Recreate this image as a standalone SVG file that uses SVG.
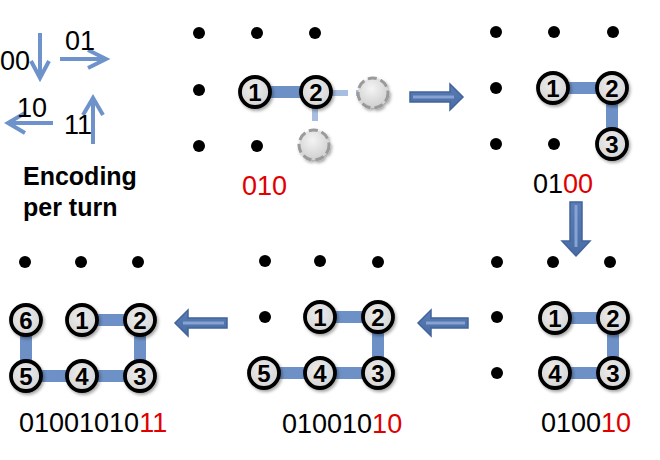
<svg xmlns="http://www.w3.org/2000/svg" width="660" height="460" viewBox="0 0 660 460">
<defs>
<style>
.dot{fill:#000}
.band{stroke:#6D90C6;stroke-width:12;fill:none}
.ghostline{stroke:#A8BEE0;stroke-width:6;fill:none;stroke-dasharray:17 8}
.node circle{fill:url(#ng);stroke:#000;stroke-width:3.8;filter:url(#sh)}
.node text{font-family:"Liberation Sans",Arial,sans-serif;font-size:24px;font-weight:bold;text-anchor:middle;fill:#000}
.ghost circle{fill:url(#gg);stroke:#9A9A9A;stroke-width:3;stroke-dasharray:9 4;filter:url(#sh)}
.code{font-family:"Liberation Sans",Arial,sans-serif;font-size:27px;fill:#000}
.red{fill:#E00000}
.leg{stroke:#6E93CB;stroke-width:4;fill:none}
.legt{font-family:"Liberation Sans",Arial,sans-serif;font-size:27px;fill:#000}
.title{font-family:"Liberation Sans",Arial,sans-serif;font-size:25px;font-weight:bold;fill:#000}
.barrow{fill:url(#ag);stroke:#41649C;stroke-width:1.5}
.stripe{stroke:#86A3D2;stroke-width:3;fill:none}
</style>
<radialGradient id="ng" cx="0.45" cy="0.4" r="0.6"><stop offset="0" stop-color="#EDEDED"/><stop offset="1" stop-color="#D4D4D4"/></radialGradient>
<radialGradient id="gg" cx="0.45" cy="0.35" r="0.65"><stop offset="0" stop-color="#F4F4F4"/><stop offset="1" stop-color="#CFCFCF"/></radialGradient>
<linearGradient id="ag" x1="0" y1="0" x2="0" y2="1"><stop offset="0" stop-color="#5A7DB6"/><stop offset="1" stop-color="#4A6CA5"/></linearGradient>
<filter id="sh" x="-30%" y="-30%" width="170%" height="170%"><feDropShadow dx="1.5" dy="2" stdDeviation="1.5" flood-color="#000" flood-opacity="0.35"/></filter>
</defs>

<!-- Legend -->
<g id="legend">
<path class="leg" d="M40 33V78M31 61L40 78L49 61"/>
<path class="leg" d="M60 59H106M88 50L106 59L88 68"/>
<path class="leg" d="M53 123H8M25 113L8 123L25 133"/>
<path class="leg" d="M93 144V98M83 115L93 98L103 115"/>
<text class="legt" x="0" y="70">00</text>
<text class="legt" x="65" y="50">01</text>
<text class="legt" x="17" y="117">10</text>
<text class="legt" x="64" y="134">11</text>
<text class="title" x="23" y="185">Encoding</text>
<text class="title" x="23" y="216">per turn</text>
</g>

<!-- Connectors -->
<g id="connectors">
<path class="band" d="M255 92H316"/>
<path class="ghostline" d="M331 93H360"/>
<path class="ghostline" d="M315 104V131"/>
<path class="band" d="M553 88H612V144"/>
<path class="band" d="M555 318H613V373H555"/>
<path class="band" d="M320 317H378V373H264"/>
<path class="band" d="M82 320H140V376H26V320"/>
<polygon class="barrow" points="410,92 450,92 450,84 463,97 450,110 450,102 410,102"/>
<path class="stripe" d="M413 97H454"/>
<polygon class="barrow" points="570,202 582,202 582,241 590,241 576,256 562,241 570,241"/>
<path class="stripe" d="M576 205V247"/>
<polygon class="barrow" points="468,318 431,318 431,310 418,323 431,336 431,328 468,328"/>
<path class="stripe" d="M465 323H426"/>
<polygon class="barrow" points="227,318 188,318 188,310 175,323 188,336 188,328 227,328"/>
<path class="stripe" d="M224 323H183"/>
</g>

<!-- Panel A -->
<g id="panelA">
<circle class="dot" cx="199" cy="33" r="6"/><circle class="dot" cx="257" cy="33" r="6"/><circle class="dot" cx="315" cy="33" r="6"/>
<circle class="dot" cx="199" cy="90" r="6"/>
<circle class="dot" cx="199" cy="146" r="6"/><circle class="dot" cx="257" cy="146" r="6"/>
<text class="code red" x="242" y="195">010</text>
</g>
<g id="A1" class="node"><circle cx="255" cy="92" r="15"/><text x="255" y="101">1</text></g>
<g id="A2" class="node"><circle cx="316" cy="92" r="15"/><text x="316" y="101">2</text></g>
<g id="Aghost1" class="ghost"><circle cx="373" cy="93" r="15"/></g>
<g id="Aghost2" class="ghost"><circle cx="314" cy="145" r="15"/></g>

<!-- Panel B -->
<g id="panelB">
<circle class="dot" cx="496" cy="32" r="6"/><circle class="dot" cx="554" cy="32" r="6"/><circle class="dot" cx="613" cy="32" r="6"/>
<circle class="dot" cx="496" cy="88" r="6"/>
<circle class="dot" cx="496" cy="144" r="6"/><circle class="dot" cx="554" cy="144" r="6"/>
<text class="code" x="533" y="193">01<tspan class="red">00</tspan></text>
</g>
<g id="B1" class="node"><circle cx="553" cy="88" r="15"/><text x="553" y="97">1</text></g>
<g id="B2" class="node"><circle cx="612" cy="88" r="15"/><text x="612" y="97">2</text></g>
<g id="B3" class="node"><circle cx="612" cy="144" r="15"/><text x="612" y="153">3</text></g>

<!-- Panel C -->
<g id="panelC">
<circle class="dot" cx="497" cy="262" r="6"/><circle class="dot" cx="553" cy="262" r="6"/><circle class="dot" cx="610" cy="262" r="6"/>
<circle class="dot" cx="497" cy="317" r="6"/>
<circle class="dot" cx="497" cy="373" r="6"/>
<text class="code" x="541" y="432">0100<tspan class="red">10</tspan></text>
</g>
<g id="C1" class="node"><circle cx="555" cy="318" r="15"/><text x="555" y="327">1</text></g>
<g id="C2" class="node"><circle cx="613" cy="318" r="15"/><text x="613" y="327">2</text></g>
<g id="C3" class="node"><circle cx="613" cy="373" r="15"/><text x="613" y="382">3</text></g>
<g id="C4" class="node"><circle cx="555" cy="373" r="15"/><text x="555" y="382">4</text></g>

<!-- Panel D -->
<g id="panelD">
<circle class="dot" cx="265" cy="261" r="6"/><circle class="dot" cx="320" cy="261" r="6"/><circle class="dot" cx="378" cy="262" r="6"/>
<circle class="dot" cx="265" cy="317" r="6"/>
<text class="code" x="282" y="433">010010<tspan class="red">10</tspan></text>
</g>
<g id="D1" class="node"><circle cx="320" cy="317" r="15"/><text x="320" y="326">1</text></g>
<g id="D2" class="node"><circle cx="378" cy="317" r="15"/><text x="378" y="326">2</text></g>
<g id="D3" class="node"><circle cx="378" cy="373" r="15"/><text x="378" y="382">3</text></g>
<g id="D4" class="node"><circle cx="320" cy="373" r="15"/><text x="320" y="382">4</text></g>
<g id="D5" class="node"><circle cx="264" cy="373" r="15"/><text x="264" y="382">5</text></g>

<!-- Panel E -->
<g id="panelE">
<circle class="dot" cx="25" cy="262" r="6"/><circle class="dot" cx="81" cy="262" r="6"/><circle class="dot" cx="138" cy="262" r="6"/>
<text class="code" x="19" y="432">01001010<tspan class="red">11</tspan></text>
</g>
<g id="E1" class="node"><circle cx="82" cy="320" r="15"/><text x="82" y="329">1</text></g>
<g id="E2" class="node"><circle cx="140" cy="320" r="15"/><text x="140" y="329">2</text></g>
<g id="E3" class="node"><circle cx="140" cy="376" r="15"/><text x="140" y="385">3</text></g>
<g id="E4" class="node"><circle cx="82" cy="376" r="15"/><text x="82" y="385">4</text></g>
<g id="E5" class="node"><circle cx="26" cy="376" r="15"/><text x="26" y="385">5</text></g>
<g id="E6" class="node"><circle cx="26" cy="320" r="15"/><text x="26" y="329">6</text></g>
</svg>
